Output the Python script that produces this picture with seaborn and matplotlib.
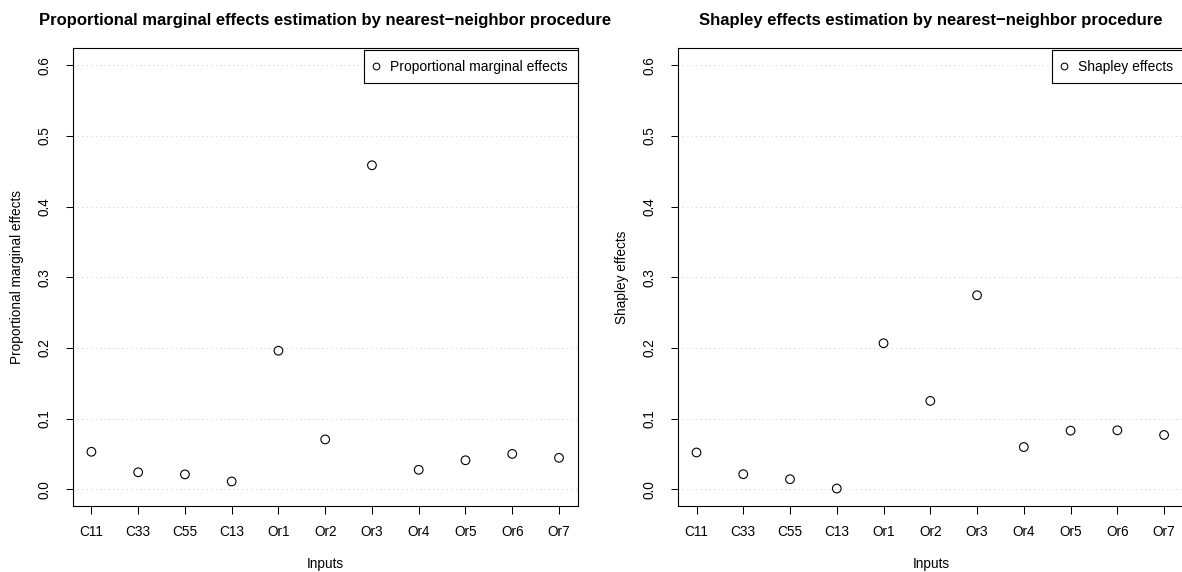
import matplotlib
matplotlib.use("Agg")
import matplotlib.pyplot as plt
from matplotlib.lines import Line2D
from matplotlib.ticker import FixedLocator
import seaborn as sns
import pandas as pd

# ---- data ----
inputs = ["C11", "C33", "C55", "C13", "Or1", "Or2", "Or3", "Or4", "Or5", "Or6", "Or7"]
pme_values = [0.053, 0.024, 0.021, 0.011, 0.196, 0.0705, 0.4585, 0.0275, 0.041, 0.050, 0.0445]
shapley_values = [0.052, 0.0213, 0.0142, 0.001, 0.2066, 0.125, 0.2745, 0.0597, 0.0829, 0.0834, 0.0768]
y_ticks = [0.0, 0.1, 0.2, 0.3, 0.4, 0.5, 0.6]

titles = ["Proportional marginal effects estimation by nearest\u2212neighbor procedure",
          "Shapley effects estimation by nearest\u2212neighbor procedure"]
ylabels = ["Proportional marginal effects", "Shapley effects"]
legend_labels = ["Proportional marginal effects", "Shapley effects"]

sns.set_style("white")
plt.rcParams['font.family'] = ['Liberation Sans', 'DejaVu Sans']
plt.rcParams.update({"text.color": "black", "axes.labelcolor": "black",
                     "xtick.color": "black", "ytick.color": "black",
                     "axes.edgecolor": "black"})

W, H = 1182, 572
fig = plt.figure(figsize=(W / 100, H / 100), dpi=100)

FS = 9.8
panels = [
    dict(rect=[72.7 / W, 65.8 / H, 505.0 / W, 457.9 / H], values=pme_values),
    dict(rect=[677.8 / W, 65.8 / H, 506.5 / W, 457.9 / H], values=shapley_values),
]

for i, p in enumerate(panels):
    ax = fig.add_axes(p["rect"])
    df = pd.DataFrame({"Inputs": inputs, "value": p["values"]})
    sns.scatterplot(data=df, x="Inputs", y="value", ax=ax, marker="o", s=39,
                    color="black", edgecolor="black", linewidth=0.8, zorder=3)
    ax.collections[0].set_facecolor("none")

    n = len(inputs)
    width_px = p["rect"][2] * W
    step = 505.0 / 10.8
    ax.set_xlim(-0.4, -0.4 + width_px / step)
    ax.set_ylim(-0.024, 0.624)
    ax.set_xticks(range(n))
    ax.set_xticklabels(inputs, fontsize=FS, va="center")
    ax.xaxis.set_minor_locator(FixedLocator([1, 3, 5, 7, 9]))
    ax.set_yticks(y_ticks)
    ax.set_yticklabels([f"{v:.1f}" for v in y_ticks], fontsize=FS, rotation=90,
                       ha="center", va="center")

    ax.tick_params(axis="x", which="major", length=5.4, width=0.75, color="black",
                   labelcolor="black", pad=13.2, direction="out", bottom=True)
    ax.tick_params(axis="x", which="minor", length=0, bottom=True)
    ax.tick_params(axis="y", which="major", length=5.4, width=0.75, color="black",
                   labelcolor="black", pad=15.0, direction="out", left=True)

    ax.set_axisbelow(True)
    ax.grid(True, axis="y", which="major", color="#d3d3d3", linestyle=(0, (1, 3)), linewidth=0.8)
    ax.grid(True, axis="x", which="minor", color="#d3d3d3", linestyle=(0, (1, 3)), linewidth=0.8)
    ax.grid(False, axis="x", which="major")

    for sp in ax.spines.values():
        sp.set_visible(True)
        sp.set_color("black")
        sp.set_linewidth(0.8)

    ax.set_xlabel("Inputs", fontsize=FS, va="center", color="black")
    ax.xaxis.set_label_coords(0.5, -0.126)
    ax.set_ylabel(ylabels[i], fontsize=FS, va="center", color="black")
    ax.yaxis.set_label_coords(-56.0 / width_px, 0.5)

    ax.text((505.0 / 2) / width_px, 1.0618, titles[i], transform=ax.transAxes,
            fontsize=11.95, fontweight="bold", ha="center", va="center", color="black")

    handle = Line2D([], [], linestyle="none", marker="o", markersize=4.8,
                    markerfacecolor="none", markeredgecolor="black", markeredgewidth=0.75)
    anchor_x = 505.4 / width_px if i == 1 else 1.0
    leg = ax.legend([handle], [legend_labels[i]], loc="upper right",
                    bbox_to_anchor=(anchor_x, 1.0 - 1.7 / 457.9),
                    borderaxespad=0, fontsize=10.0, fancybox=False, framealpha=1,
                    edgecolor="black", borderpad=0.69, handlelength=0.45,
                    handletextpad=0.8, labelcolor="black")
    leg.get_frame().set_linewidth(0.8)

fig.savefig("out.png", dpi=100, facecolor="white")
